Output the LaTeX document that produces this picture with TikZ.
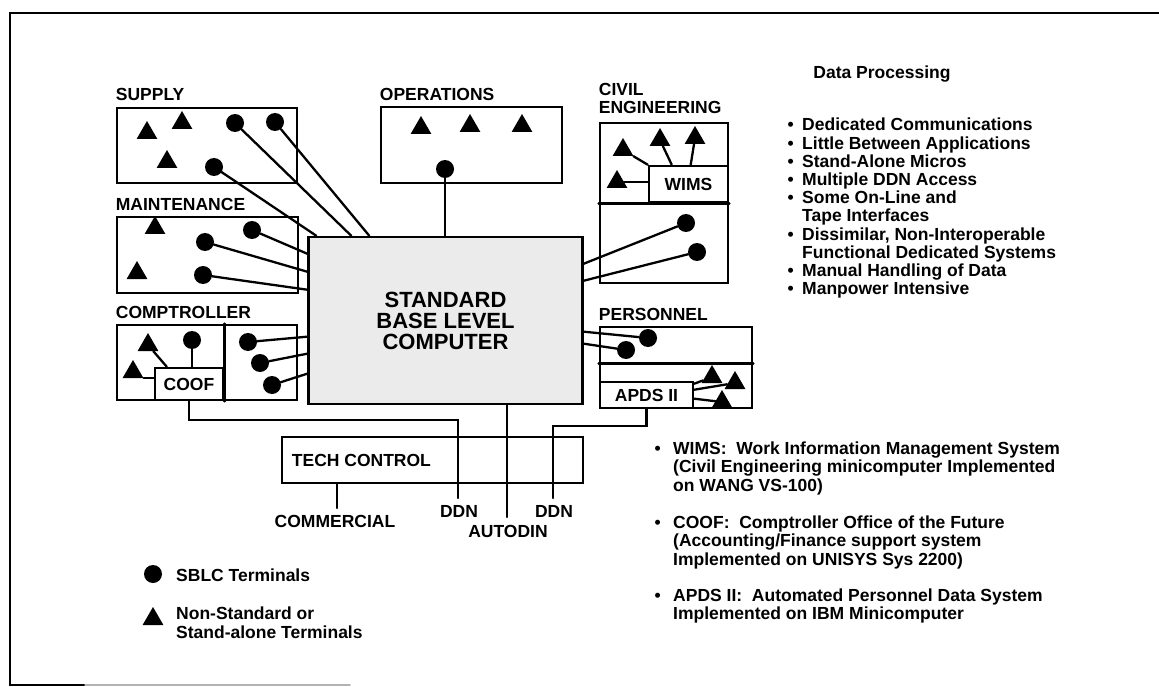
\documentclass[tikz,border=0pt]{standalone}
\usepackage{fontspec}
\setmainfont{Liberation Sans}
\usetikzlibrary{shapes.geometric,positioning}

\tikzset{
  box/.style={draw,line width=2.6pt,inner sep=0pt},
  sblcterm/.style={circle,fill=black,inner sep=0pt,minimum size=18pt},
  otherterm/.style={regular polygon,regular polygon sides=3,fill=black,inner sep=0pt,minimum size=24pt},
  lbl/.style={inner sep=0pt,anchor=base west},
  link/.style={line width=2.3pt},
}

\begin{document}
\begin{tikzpicture}[x=1pt,y=-1pt,font=\bfseries\fontsize{17.5}{18}\selectfont,line cap=round]
\useasboundingbox (0,0) rectangle (1159,687);
% frame
\draw[line width=2.6pt] (10,685) -- (10,13) -- (1159,13);
\draw[line width=2.6pt] (10,685) -- (85,685);
\draw[line width=1.5pt,gray!60] (85,685) -- (350,685);

% computer
\node[box,fill=black!8,minimum width=274pt,minimum height=167pt,align=center,font=\bfseries\fontsize{22}{21}\selectfont] (comp) at (445.5,320.5) {STANDARD\\BASE LEVEL\\COMPUTER};

% supply
\node[box,minimum width=180pt,minimum height=75pt] (supply) at (207,145.5) {};
\node[lbl] (supplyl) at ([yshift=6pt]supply.north west) {SUPPLY};
\node[otherterm] (su1) at (147,133) {};
\node[otherterm] (su2) at (182,123) {};
\node[otherterm] (su3) at (167,162) {};
\node[sblcterm] (su4) at (235,123) {};
\node[sblcterm] (su5) at (275,122) {};
\node[sblcterm] (su6) at (214,167) {};
\draw[link] (su4) -- ([xshift=44pt]comp.north west);
\draw[link] (su5) -- ([xshift=62pt]comp.north west);
\draw[link] (su6) -- ([xshift=9pt]comp.north west);

% operations
\node[box,minimum width=181pt,minimum height=76pt] (ops) at (471.5,145) {};
\node[lbl] (opsl) at ([yshift=5pt]ops.north west) {OPERATIONS};
\node[otherterm] (op1) at (421,128) {};
\node[otherterm] (op2) at (470,126) {};
\node[otherterm] (op3) at (522,126) {};
\node[sblcterm] (op4) at (445,169) {};
\draw[link] (op4) -- (op4 |- comp.north);

% maintenance
\node[box,minimum width=181pt,minimum height=76pt] (maint) at (207.5,255) {};
\node[lbl] (maintl) at ([yshift=5pt]maint.north west) {MAINTENANCE};
\node[otherterm] (ma1) at (155,228) {};
\node[otherterm] (ma2) at (137,273) {};
\node[sblcterm] (ma3) at (252,230) {};
\node[sblcterm] (ma4) at (205,242) {};
\node[sblcterm] (ma5) at (203,275) {};
\draw[link] (ma3) -- ([yshift=-18pt]comp.north west);
\draw[link] (ma4) -- ([yshift=-36pt]comp.north west);
\draw[link] (ma5) -- ([yshift=-54pt]comp.north west);

% comptroller
\node[box,minimum width=180pt,minimum height=75pt] (compt) at (207,362.5) {};
\node[lbl] (comptl) at ([yshift=5pt]compt.north west) {COMPTROLLER};
\node[box,minimum width=68pt,minimum height=32pt] (coof) at (189,384) {COOF};
\draw[line width=2.6pt] (coof.east |- compt.north) -- (coof.east |- compt.south);
\node[otherterm] (cp1) at (148,345) {};
\node[otherterm] (cp2) at (133,372) {};
\node[sblcterm] (cp3) at (192,340) {};
\node[sblcterm] (cp4) at (248,342) {};
\node[sblcterm] (cp5) at (260,363) {};
\node[sblcterm] (cp6) at (272,385) {};
\draw[link] (cp1) -- ([xshift=13pt]coof.north west);
\draw[link] (cp2.corner 3) -- (cp2.corner 3 -| coof.west);
\draw[link] (cp3) -- (cp3 |- coof.north);
\draw[link] (cp4) -- ([yshift=-101pt]comp.north west);
\draw[link] (cp5) -- ([yshift=-118pt]comp.north west);
\draw[link] (cp6) -- ([yshift=-138pt]comp.north west);

% civil engineering
\node[box,minimum width=128pt,minimum height=160pt] (civil) at (664,203) {};
\node[lbl] (civill) at ([yshift=26pt]civil.north west) {CIVIL};
\node[lbl] (engl) at ([yshift=8pt]civil.north west) {ENGINEERING};
\node[box,minimum width=79pt,minimum height=36pt] (wims) at (688.5,184) {WIMS};
\draw[line width=2.6pt] (civil.west |- wims.south) -- (civil.east |- wims.south);
\node[otherterm] (ce1) at (623,150) {};
\node[otherterm] (ce2) at (660,140) {};
\node[otherterm] (ce3) at (695,138) {};
\node[otherterm] (ce4) at (617,182) {};
\node[sblcterm] (ce5) at (686,223) {};
\node[sblcterm] (ce6) at (697,252) {};
\draw[link] (ce1) -- (wims.north west);
\draw[link] (ce2) -- ([xshift=24pt]wims.north west);
\draw[link] (ce3) -- ([xshift=43pt]wims.north west);
\draw[link] (ce4) -- (ce4 -| wims.west);
\draw[link] (ce5) -- ([yshift=-28pt]comp.north east);
\draw[link] (ce6) -- ([yshift=-45pt]comp.north east);

% personnel
\node[box,minimum width=152pt,minimum height=81pt] (pers) at (676,367.5) {};
\node[lbl] (persl) at ([yshift=5pt]pers.north west) {PERSONNEL};
\node[box,minimum width=93pt,minimum height=26pt] (apds) at (646.5,395) {APDS II};
\draw[line width=2.6pt] ([yshift=-38pt]pers.north west) -- ([yshift=-38pt]pers.north east);
\node[sblcterm] (pe1) at (648,338) {};
\node[sblcterm] (pe2) at (626,350) {};
\node[otherterm] (pe3) at (712,377) {};
\node[otherterm] (pe4) at (735,383) {};
\node[otherterm] (pe5) at (722,402) {};
\draw[link] (pe1) -- ([yshift=-96pt]comp.north east);
\draw[link] (pe2) -- ([yshift=-108pt]comp.north east);
\draw[link] ([yshift=-3pt]apds.north east) -- (pe3);
\draw[link] ([yshift=-9pt]apds.north east) -- (pe4);
\draw[link] ([yshift=-18pt]apds.north east) -- (pe5);

% tech control and outside lines
\node[box,minimum width=301pt,minimum height=46pt] (tech) at (432.5,460) {};
\node[lbl,anchor=west] (techl) at ([xshift=11pt]tech.west) {TECH CONTROL};
\coordinate (comm) at (337,508);
\coordinate (ddnl) at (458,498);
\coordinate (autodin) at (507,517);
\coordinate (ddnr) at (553,498);
\draw[link] (comm |- tech.south) -- (comm);
\draw[link] (coof.south) -- ++(0,19) -| (ddnl);
\draw[link] (autodin |- comp.south) -- (autodin);
\draw[link] (apds.south) -- ++(0,17) -| (ddnr);
\node[anchor=base] (comml) at (335,527) {COMMERCIAL};
\node[anchor=base] (ddnll) at (459,517) {DDN};
\node[anchor=base] (autodinl) at (508,537) {AUTODIN};
\node[anchor=base] (ddnrl) at (554,517) {DDN};

% legend
\node[sblcterm] (keyc) at (153,574) {};
\node[lbl] (keyct) at (176,581) {SBLC Terminals};
\node[otherterm] (keyt) at (153,619) {};
\node[lbl] (keytt1) at (176,619) {Non-Standard or};
\node[lbl] (keytt2) at (176,638) {Stand-alone Terminals};

% data processing list
\node[anchor=base] (dphead) at (882,79) {Data Processing};
\foreach \yy/\tx [count=\i] in {131/Dedicated Communications, 149.2/Little Between Applications,
    167.4/Stand-Alone Micros, 185.6/Multiple DDN Access, 203.8/Some On-Line and,
    222/Tape Interfaces, 240.2/{Dissimilar, Non-Interoperable}, 258.4/Functional Dedicated Systems,
    276.6/Manual Handling of Data, 294.8/Manpower Intensive}
  \node[lbl] (dp\i) at (802,\yy) {\tx};
\foreach \i in {1,2,3,4,5,7,9,10}
  \node[lbl,anchor=base east] (dpb\i) at ([xshift=-8pt]dp\i.base west) {•};

% footnotes
\node[lbl] (fn1) at (673,454) {WIMS:\ \ Work Information Management System};
\node[lbl] (fn2) at (673,472.5) {(Civil Engineering minicomputer Implemented};
\node[lbl] (fn3) at (673,491) {on WANG VS-100)};
\node[lbl] (fn4) at (673,528) {COOF:\ \ Comptroller Office of the Future};
\node[lbl] (fn5) at (673,546.5) {(Accounting/Finance support system};
\node[lbl] (fn6) at (673,565) {Implemented on UNISYS Sys 2200)};
\node[lbl] (fn7) at (673,601) {APDS II:\ \ Automated Personnel Data System};
\node[lbl] (fn8) at (673,619.5) {Implemented on IBM Minicomputer};
\node[lbl,anchor=base east] (fnb1) at ([xshift=-12pt]fn1.base west) {•};
\node[lbl,anchor=base east] (fnb2) at ([xshift=-12pt]fn4.base west) {•};
\node[lbl,anchor=base east] (fnb3) at ([xshift=-12pt]fn7.base west) {•};
\end{tikzpicture}
\end{document}
